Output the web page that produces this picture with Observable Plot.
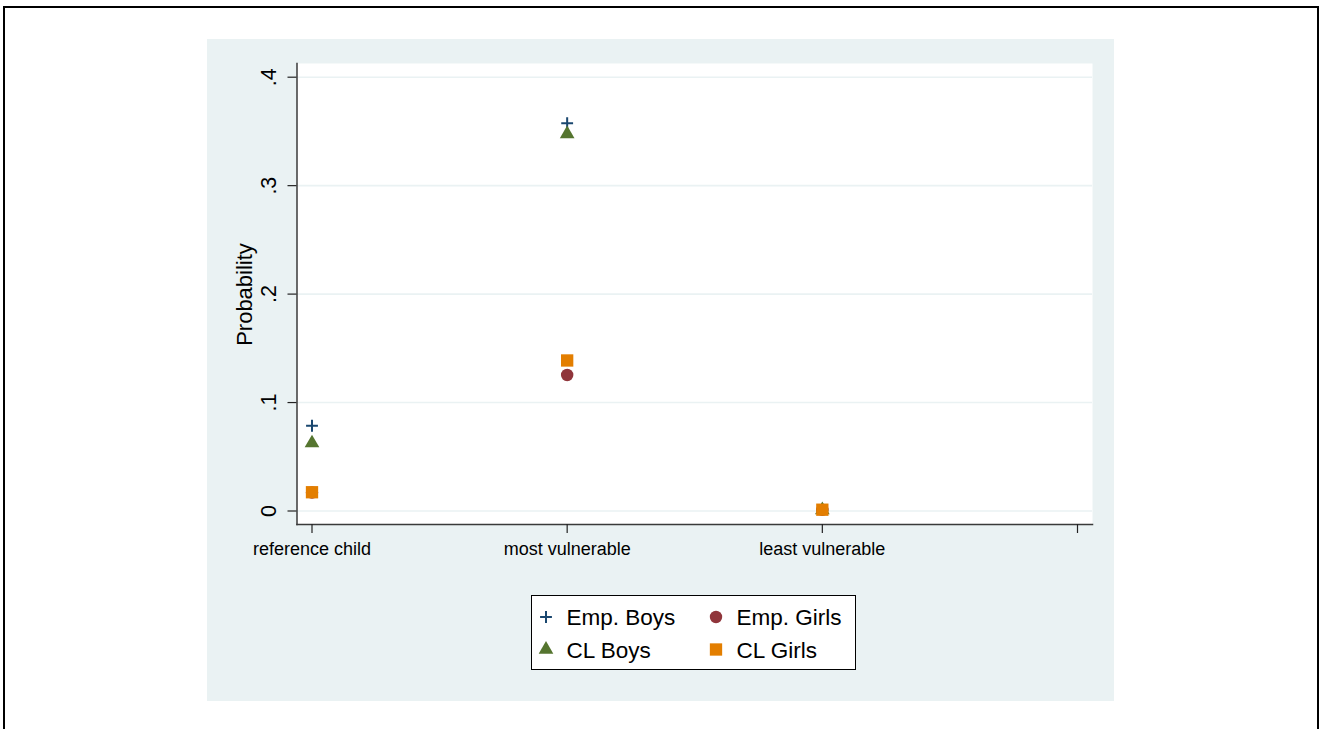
<!DOCTYPE html>
<html><head><meta charset="utf-8">
<script src="https://cdn.jsdelivr.net/npm/d3@7"></script>
<script src="https://cdn.jsdelivr.net/npm/@observablehq/plot@0.6"></script>
<style>
html,body{margin:0;padding:0;overflow:hidden;background:#fff;}
#wrap{position:relative;width:1320px;height:729px;overflow:hidden;font-family:"Liberation Sans",Arial,sans-serif;}
#frame{position:absolute;left:3.3px;top:5.7px;width:1311.9px;height:900px;border:2.5px solid #000;}
#panel{position:absolute;left:207px;top:39px;width:907px;height:662px;background:#EAF2F3;}
#chart{position:absolute;left:0;top:0;}
#legend{position:absolute;left:531px;top:595px;width:325px;height:75px;box-sizing:border-box;border:1px solid #000;background:#fff;}
#legend svg{position:absolute;left:-1px;top:-1px;}
</style>
</head>
<body>
<div id="wrap">
  <div id="frame"></div>
  <div id="panel"></div>
  <div id="chart"></div>
  <div id="legend"></div>
</div>
<script>
// ---- data ----
const categories = ["reference child", "most vulnerable", "least vulnerable"];
const categoryPositions = [1, 2, 3, 4];
const yTicks = [0, 0.1, 0.2, 0.3, 0.4];
const yTickLabels = ["0", ".1", ".2", ".3", ".4"];
const empBoys  = [0.0786, 0.3576, 0.0012];
const empGirls = [0.0170, 0.1254, 0.0010];
const clBoys   = [0.0626, 0.3476, 0.0010];
const clGirls  = [0.0173, 0.1388, 0.0012];
const seriesNames = ["Emp. Boys", "Emp. Girls", "CL Boys", "CL Girls"];
const seriesColors = ["#1a476f", "#90353b", "#55752f", "#e37e00"];
const seriesSymbols = ["plus", "circle", "triangle", "square"];
const seriesR = [3.9, 6.2, 5.45, 6.95];
const seriesValues = [empBoys, empGirls, clBoys, clGirls];

const rows = seriesValues.flatMap((vals, s) =>
  vals.map((v, i) => ({series: seriesNames[s], pos: i + 1, value: v})));
const yTickRows = yTicks.map((v, i) => ({value: v, label: yTickLabels[i]}));

const font = "Liberation Sans, Arial, sans-serif";
const axisColor = "#3a3a3a";

const dotMarks = seriesNames.map((name, s) => {
  const isStroke = seriesSymbols[s] === "plus";
  return Plot.dot(rows.filter(d => d.series === name), {
    x: "pos", y: "value",
    symbol: () => seriesSymbols[s],
    r: seriesR[s],
    fill: isStroke ? "none" : seriesColors[s],
    stroke: isStroke ? seriesColors[s] : "none",
    strokeWidth: isStroke ? 2 : 0
  });
});

const chart = Plot.plot({
  width: 1320,
  height: 729,
  marginLeft: 296.5,
  marginRight: 228,
  marginTop: 63,
  marginBottom: 205,
  style: {background: "transparent", fontFamily: font, color: "#000"},
  x: {type: "linear", domain: [1, 4], range: [311.5, 1077]},
  y: {type: "linear", domain: [0, 0.4], range: [510.5, 76.7]},
  marks: [
    Plot.frame({fill: "white", stroke: "none"}),
    Plot.gridY(yTicks, {stroke: "#EAF2F3", strokeOpacity: 1, strokeWidth: 1.6}),
    Plot.frame({anchor: "left", stroke: axisColor, strokeWidth: 1.5}),
    Plot.frame({anchor: "bottom", stroke: axisColor, strokeWidth: 1.5}),
    Plot.axisY(yTicks, {
      tickSize: 9, tickFormat: () => "", stroke: "#222", strokeWidth: 1.2, label: null
    }),
    Plot.text(yTickRows, {
      y: "value", text: "label", frameAnchor: "left", rotate: -90, dx: -21,
      textAnchor: "middle", lineAnchor: "bottom", fontSize: 21.5, fill: "#000"
    }),
    Plot.axisX(categoryPositions, {
      tickSize: 9, tickPadding: 9, fontSize: 18,
      stroke: "#222", strokeWidth: 1.2, fill: "#000",
      tickFormat: d => categories[d - 1] ?? "",
      label: null
    }),
    Plot.text(["Probability"], {
      frameAnchor: "left", rotate: -90, dx: -61, dy: 0.5,
      textAnchor: "middle", lineAnchor: "top", fontSize: 22, fill: "#000"
    }),
    ...dotMarks
  ]
});
document.getElementById("chart").appendChild(chart);

// ---- legend ----
const lsvg = d3.select("#legend").append("svg").attr("width", 325).attr("height", 75)
  .style("font-family", font);
const legendCols = [15, 185];
const legendRows = [22, 54.5];
seriesNames.forEach((name, s) => {
  const cx = legendCols[s % 2], cy = legendRows[Math.floor(s / 2)];
  const sym = {plus: d3.symbolPlus, circle: d3.symbolCircle, triangle: d3.symbolTriangle, square: d3.symbolSquare}[seriesSymbols[s]];
  const p = lsvg.append("path")
    .attr("transform", `translate(${cx},${cy})`)
    .attr("d", d3.symbol(sym, Math.PI * seriesR[s] * seriesR[s])());
  if (seriesSymbols[s] === "plus") p.attr("fill", "none").attr("stroke", seriesColors[s]).attr("stroke-width", 2);
  else p.attr("fill", seriesColors[s]);
  lsvg.append("text").attr("x", cx + 20.5).attr("y", cy + 8.2)
    .attr("font-size", 22.5).attr("fill", "#000").text(name);
});
</script>
</body></html>
